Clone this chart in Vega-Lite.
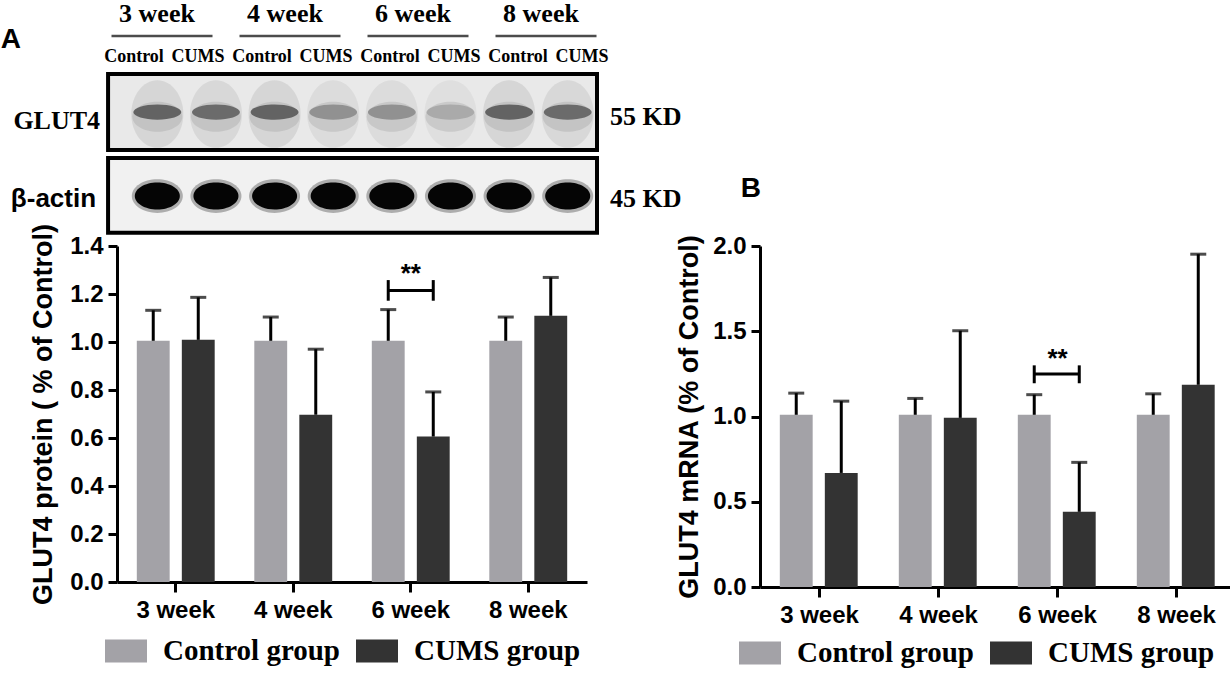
{
  "$schema": "https://vega.github.io/schema/vega-lite/v6.json",
  "description": "GLUT4 protein and mRNA in Control and CUMS groups, with the western blot",
  "padding": 0,
  "columns": 2,
  "align": "each",
  "bounds": "full",
  "spacing": {"row": -12, "column": -7},
  "datasets": {
    "protein": [
      {"week": "3 week", "group": "Control group", "mean": 1.005, "upper": 1.132},
      {"week": "3 week", "group": "CUMS group", "mean": 1.009, "upper": 1.186},
      {"week": "4 week", "group": "Control group", "mean": 1.005, "upper": 1.104},
      {"week": "4 week", "group": "CUMS group", "mean": 0.697, "upper": 0.97},
      {"week": "6 week", "group": "Control group", "mean": 1.005, "upper": 1.135},
      {"week": "6 week", "group": "CUMS group", "mean": 0.606, "upper": 0.792},
      {"week": "8 week", "group": "Control group", "mean": 1.005, "upper": 1.104},
      {"week": "8 week", "group": "CUMS group", "mean": 1.109, "upper": 1.269}
    ],
    "mrna": [
      {"week": "3 week", "group": "Control group", "mean": 1.01, "upper": 1.137},
      {"week": "3 week", "group": "CUMS group", "mean": 0.669, "upper": 1.09},
      {"week": "4 week", "group": "Control group", "mean": 1.01, "upper": 1.106},
      {"week": "4 week", "group": "CUMS group", "mean": 0.992, "upper": 1.503},
      {"week": "6 week", "group": "Control group", "mean": 1.01, "upper": 1.128},
      {"week": "6 week", "group": "CUMS group", "mean": 0.441, "upper": 0.731},
      {"week": "8 week", "group": "Control group", "mean": 1.01, "upper": 1.133},
      {"week": "8 week", "group": "CUMS group", "mean": 1.186, "upper": 1.952}
    ],
    "blot": [
      {"week": "3 week", "lane": "Control", "glut4": 0.85},
      {"week": "3 week", "lane": "CUMS", "glut4": 0.8},
      {"week": "4 week", "lane": "Control", "glut4": 0.85},
      {"week": "4 week", "lane": "CUMS", "glut4": 0.55},
      {"week": "6 week", "lane": "Control", "glut4": 0.55},
      {"week": "6 week", "lane": "CUMS", "glut4": 0.4},
      {"week": "8 week", "lane": "Control", "glut4": 0.85},
      {"week": "8 week", "lane": "CUMS", "glut4": 0.8}
    ]
  },
  "concat": [
    {
      "width": 481,
      "height": 230,
      "data": {"name": "blot"},
      "resolve": {"scale": {"x": "independent", "xOffset": "independent"}},
      "layer": [
        {
          "encoding": {
            "x": {"field": "week", "type": "nominal", "axis": null,
                  "scale": {"type": "band", "range": [-15, 497], "paddingInner": 0, "paddingOuter": 0}},
            "y": {"datum": 9.57, "type": "quantitative", "axis": null, "scale": {"domain": [0, 10]}}
          },
          "layer": [
            {
              "transform": [{"filter": "datum.lane === 'Control'"}],
              "mark": {"type": "text", "font": "Liberation Serif", "fontWeight": "bold", "fontSize": 26, "dx": -9, "baseline": "middle", "color": "black"},
              "encoding": {"text": {"field": "week"}}
            },
            {
              "transform": [{"filter": "datum.lane === 'Control'"}],
              "mark": {"type": "tick", "orient": "horizontal", "size": 101, "thickness": 2.5, "color": "black", "xOffset": -4},
              "encoding": {"y": {"datum": 8.61}}
            },
            {
              "mark": {"type": "text", "font": "Liberation Serif", "fontWeight": "bold", "fontSize": 18, "baseline": "middle", "color": "black"},
              "encoding": {
                "xOffset": {"field": "lane", "type": "nominal", "scale": {"type": "band", "domain": ["Control", "CUMS"], "paddingInner": 0, "paddingOuter": 0}},
                "y": {"datum": 7.7},
                "text": {"field": "lane"}
              }
            }
          ]
        },
        {
          "encoding": {
            "x": {"field": "week", "type": "nominal", "axis": null,
                  "scale": {"type": "band", "range": [11, 480], "paddingInner": 0, "paddingOuter": 0}}
          },
          "layer": [
            {
              "data": {"values": [{"target": "GLUT4"}]},
              "mark": {"type": "rect", "fill": "#e9e9e9", "stroke": "black", "strokeWidth": 4},
              "encoding": {
                "x": {"datum": "3 week", "bandPosition": -0.17},
                "x2": {"datum": "8 week", "bandPosition": 1},
                "y": {"datum": 6.96},
                "y2": {"datum": 3.65}
              }
            },
            {
              "data": {"values": [{"target": "β-actin"}]},
              "mark": {"type": "rect", "fill": "#f1f1f1", "stroke": "black", "strokeWidth": 4},
              "encoding": {
                "x": {"datum": "3 week", "bandPosition": -0.17},
                "x2": {"datum": "8 week", "bandPosition": 1},
                "y": {"datum": 3.3},
                "y2": {"datum": 0.05}
              }
            },
            {
              "mark": {"type": "point", "filled": true, "strokeWidth": 0, "color": "#6a6a6a", "size": 2704,
                       "shape": "M-1,0A1,1.3 0 1,1 1,0A1,1.3 0 1,1 -1,0Z"},
              "encoding": {
                "xOffset": {"field": "lane", "type": "nominal", "scale": {"type": "band", "domain": ["Control", "CUMS"], "paddingInner": 0.2, "paddingOuter": 0.1}},
                "y": {"datum": 5.22},
                "fillOpacity": {"field": "glut4", "type": "quantitative", "scale": {"domain": [0.3, 0.9], "range": [0.08, 0.22]}, "legend": null}
              }
            },
            {
              "mark": {"type": "point", "filled": true, "strokeWidth": 0, "color": "#555555", "opacity": 0.15, "size": 2500,
                       "shape": "M-1,0A1,0.6 0 1,1 1,0A1,0.6 0 1,1 -1,0Z"},
              "encoding": {
                "xOffset": {"field": "lane", "type": "nominal"},
                "y": {"datum": 5.1}
              }
            },
            {
              "mark": {"type": "point", "filled": true, "strokeWidth": 0, "color": "#3a3a3a", "size": 2304,
                       "shape": "M-1,0A1,0.32 0 1,1 1,0A1,0.32 0 1,1 -1,0Z"},
              "encoding": {
                "xOffset": {"field": "lane", "type": "nominal"},
                "y": {"datum": 5.3},
                "opacity": {"field": "glut4", "type": "quantitative", "scale": {"domain": [0.3, 0.9], "range": [0.12, 0.75]}, "legend": null}
              }
            },
            {
              "mark": {"type": "point", "filled": true, "strokeWidth": 0, "color": "#111111", "opacity": 0.3, "size": 2601,
                       "shape": "M-1,0A1,0.66 0 1,1 1,0A1,0.66 0 1,1 -1,0Z"},
              "encoding": {
                "xOffset": {"field": "lane", "type": "nominal"},
                "y": {"datum": 1.65}
              }
            },
            {
              "mark": {"type": "point", "filled": true, "strokeWidth": 0, "color": "#050505", "opacity": 1, "size": 2025,
                       "shape": "M-1,0A1,0.6 0 1,1 1,0A1,0.6 0 1,1 -1,0Z"},
              "encoding": {
                "xOffset": {"field": "lane", "type": "nominal"},
                "y": {"datum": 1.65}
              }
            },
            {
              "data": {"values": [{"label": "GLUT4"}]},
              "mark": {"type": "text", "font": "Liberation Serif", "fontWeight": "bold", "fontSize": 26, "align": "right", "baseline": "middle", "dx": -8, "color": "black"},
              "encoding": {"x": {"datum": "3 week", "bandPosition": -0.17}, "y": {"datum": 4.91}, "text": {"field": "label"}}
            },
            {
              "data": {"values": [{"label": "β-actin"}]},
              "mark": {"type": "text", "font": "Liberation Sans", "fontWeight": "bold", "fontSize": 26, "align": "right", "baseline": "middle", "dx": -12, "color": "black"},
              "encoding": {"x": {"datum": "3 week", "bandPosition": -0.17}, "y": {"datum": 1.52}, "text": {"field": "label"}}
            },
            {
              "data": {"values": [{"label": "55 KD"}]},
              "mark": {"type": "text", "font": "Liberation Serif", "fontWeight": "bold", "fontSize": 26, "align": "left", "baseline": "middle", "dx": 13, "color": "black"},
              "encoding": {"x": {"datum": "8 week", "bandPosition": 1}, "y": {"datum": 5.09}, "text": {"field": "label"}}
            },
            {
              "data": {"values": [{"label": "45 KD"}]},
              "mark": {"type": "text", "font": "Liberation Serif", "fontWeight": "bold", "fontSize": 26, "align": "left", "baseline": "middle", "dx": 13, "color": "black"},
              "encoding": {"x": {"datum": "8 week", "bandPosition": 1}, "y": {"datum": 1.52}, "text": {"field": "label"}}
            },
            {
              "data": {"values": [{"label": "A"}]},
              "mark": {"type": "text", "font": "Liberation Sans", "fontWeight": "bold", "fontSize": 28, "align": "center", "baseline": "middle", "color": "black"},
              "encoding": {"x": {"datum": "3 week", "bandPosition": -1}, "y": {"datum": 8.43}, "text": {"field": "label"}}
            }
          ]
        }
      ]
    },
    {
      "width": 2,
      "height": 230,
      "data": {"values": [{"panel": "B"}]},
      "mark": {"type": "text", "font": "Liberation Sans", "fontWeight": "bold", "fontSize": 28, "align": "right", "baseline": "middle", "color": "black"},
      "encoding": {
        "y": {"datum": 1.96, "type": "quantitative", "axis": null, "scale": {"domain": [0, 10]}},
        "text": {"field": "panel"}
      }
    },
    {
      "width": 470,
      "height": 336,
      "data": {"name": "protein"},
      "encoding": {
        "x": {"field": "week", "type": "nominal", "title": null,
              "scale": {"type": "band", "paddingInner": 0, "paddingOuter": 0}}
      },
      "layer": [
        {
          "mark": {"type": "bar"},
          "encoding": {
            "xOffset": {"field": "group", "type": "nominal",
                        "scale": {"domain": ["Control group", "CUMS group"], "paddingInner": 0.27, "paddingOuter": 0.44}},
            "y": {"field": "mean", "type": "quantitative",
                  "scale": {"domain": [0, 1.4], "nice": false},
                  "axis": {"title": "GLUT4 protein ( % of Control)", "values": [0, 0.2, 0.4, 0.6, 0.8, 1.0, 1.2, 1.4], "format": ".1f", "titlePadding": 12}},
            "color": {"field": "group", "type": "nominal",
                      "scale": {"domain": ["Control group", "CUMS group"], "range": ["#a3a2a7", "#333333"]},
                      "legend": {"title": null, "orient": "none", "legendX": -12, "legendY": 384, "direction": "horizontal",
                                 "symbolType": "M-1,-0.55H1V0.55H-1Z", "symbolSize": 1764, "symbolStrokeWidth": 0,
                                 "labelFont": "Liberation Serif", "labelFontWeight": "bold", "labelFontSize": 29, "labelColor": "black",
                                 "labelOffset": 16, "columnPadding": 16, "labelLimit": 400}}
          }
        },
        {
          "mark": {"type": "rule", "strokeWidth": 3, "color": "black"},
          "encoding": {
            "xOffset": {"field": "group", "type": "nominal"},
            "y": {"field": "mean", "type": "quantitative"},
            "y2": {"field": "upper"}
          }
        },
        {
          "mark": {"type": "tick", "orient": "horizontal", "size": 16, "thickness": 3, "color": "black"},
          "encoding": {
            "xOffset": {"field": "group", "type": "nominal"},
            "y": {"field": "upper", "type": "quantitative"}
          }
        },
        {
          "transform": [{"filter": "datum.week === '6 week'"}],
          "mark": {"type": "line", "strokeWidth": 3, "color": "black"},
          "encoding": {
            "xOffset": {"field": "group", "type": "nominal"},
            "y": {"datum": 1.215}
          }
        },
        {
          "transform": [{"filter": "datum.week === '6 week'"}],
          "mark": {"type": "rule", "strokeWidth": 3, "color": "black"},
          "encoding": {
            "xOffset": {"field": "group", "type": "nominal"},
            "y": {"datum": 1.172},
            "y2": {"datum": 1.258}
          }
        },
        {
          "transform": [{"filter": "datum.week === '6 week' && datum.group === 'Control group'"}],
          "mark": {"type": "text", "font": "Liberation Sans", "fontWeight": "bold", "fontSize": 26, "baseline": "middle", "color": "black"},
          "encoding": {
            "y": {"datum": 1.285},
            "text": {"value": "**"}
          }
        }
      ]
    },
    {
      "width": 476,
      "height": 341,
      "data": {"name": "mrna"},
      "encoding": {
        "x": {"field": "week", "type": "nominal", "title": null,
              "scale": {"type": "band", "paddingInner": 0, "paddingOuter": 0}}
      },
      "layer": [
        {
          "mark": {"type": "bar"},
          "encoding": {
            "xOffset": {"field": "group", "type": "nominal",
                        "scale": {"domain": ["Control group", "CUMS group"], "paddingInner": 0.28, "paddingOuter": 0.44}},
            "y": {"field": "mean", "type": "quantitative",
                  "scale": {"domain": [0, 2], "nice": false},
                  "axis": {"title": "GLUT4 mRNA (% of Control)", "values": [0, 0.5, 1.0, 1.5, 2.0], "format": ".1f", "titlePadding": 9}},
            "color": {"field": "group", "type": "nominal",
                      "scale": {"domain": ["Control group", "CUMS group"], "range": ["#a3a2a7", "#333333"]},
                      "legend": {"title": null, "orient": "none", "legendX": -21, "legendY": 386, "direction": "horizontal",
                                 "symbolType": "M-1,-0.55H1V0.55H-1Z", "symbolSize": 1764, "symbolStrokeWidth": 0,
                                 "labelFont": "Liberation Serif", "labelFontWeight": "bold", "labelFontSize": 29, "labelColor": "black",
                                 "labelOffset": 16, "columnPadding": 16, "labelLimit": 400}}
          }
        },
        {
          "mark": {"type": "rule", "strokeWidth": 3, "color": "black"},
          "encoding": {
            "xOffset": {"field": "group", "type": "nominal"},
            "y": {"field": "mean", "type": "quantitative"},
            "y2": {"field": "upper"}
          }
        },
        {
          "mark": {"type": "tick", "orient": "horizontal", "size": 16, "thickness": 3, "color": "black"},
          "encoding": {
            "xOffset": {"field": "group", "type": "nominal"},
            "y": {"field": "upper", "type": "quantitative"}
          }
        },
        {
          "transform": [{"filter": "datum.week === '6 week'"}],
          "mark": {"type": "line", "strokeWidth": 3, "color": "black"},
          "encoding": {
            "xOffset": {"field": "group", "type": "nominal"},
            "y": {"datum": 1.249}
          }
        },
        {
          "transform": [{"filter": "datum.week === '6 week'"}],
          "mark": {"type": "rule", "strokeWidth": 3, "color": "black"},
          "encoding": {
            "xOffset": {"field": "group", "type": "nominal"},
            "y": {"datum": 1.195},
            "y2": {"datum": 1.3}
          }
        },
        {
          "transform": [{"filter": "datum.week === '6 week' && datum.group === 'Control group'"}],
          "mark": {"type": "text", "font": "Liberation Sans", "fontWeight": "bold", "fontSize": 26, "baseline": "middle", "color": "black"},
          "encoding": {
            "y": {"datum": 1.34},
            "text": {"value": "**"}
          }
        }
      ]
    }
  ],
  "resolve": {
    "scale": {"x": "independent", "y": "independent", "color": "independent"},
    "legend": {"color": "independent"}
  },
  "config": {
    "background": "white",
    "view": {"stroke": null},
    "axis": {
      "grid": false,
      "domainColor": "black",
      "domainWidth": 3,
      "tickColor": "black",
      "tickWidth": 3,
      "tickSize": 9,
      "labelFont": "Liberation Sans",
      "labelFontWeight": "bold",
      "labelFontSize": 24,
      "labelColor": "black",
      "labelPadding": 5,
      "titleFont": "Liberation Sans",
      "titleFontWeight": "bold",
      "titleFontSize": 27,
      "titleColor": "black"
    },
    "axisX": {"labelAngle": 0, "tickSize": 10, "labelPadding": 6}
  }
}
